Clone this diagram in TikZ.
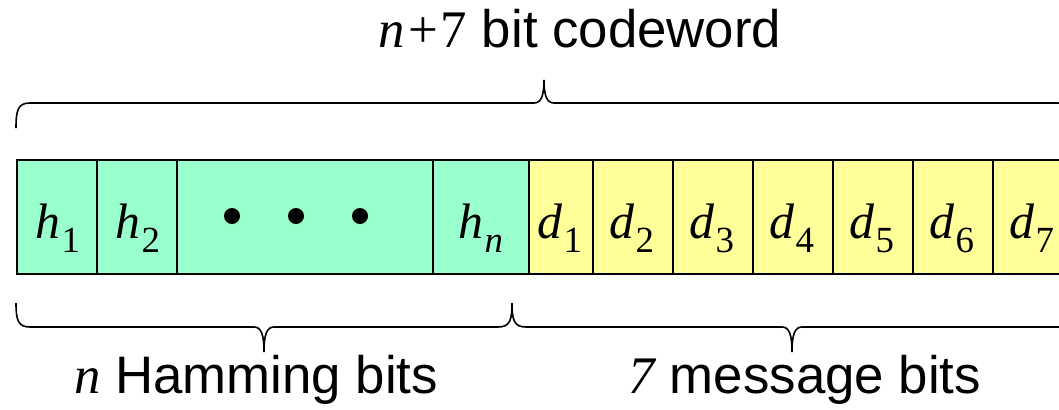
\documentclass[tikz,border=0pt]{standalone}
\usepackage{fontspec}
\setmainfont{Liberation Sans}
\newfontfamily\tms{Liberation Serif}
\definecolor{hamgreen}{RGB}{153,255,204}
\definecolor{msgyellow}{RGB}{255,255,153}
% italic serif variable, and a variable with a lowered subscript
\newcommand{\mvar}[1]{{\tms\itshape #1}}
\newcommand{\bitlabel}[2]{\mvar{#1}\kern1bp\lower14bp\hbox{\fontsize{37}{37}\selectfont\tms #2}}
\begin{document}
\begin{tikzpicture}[x=1bp,y=-1bp,
  cell/.style={draw=black, line width=2.2bp, minimum height=114bp, inner sep=0pt, anchor=west},
  hcell/.style={cell, fill=hamgreen},
  dcell/.style={cell, fill=msgyellow},
  bitlbl/.style={font=\fontsize{50}{50}\selectfont, inner sep=0pt, anchor=base},
  caption/.style={font=\fontsize{53}{53}\selectfont, inner sep=0pt, anchor=base},
  dotmark/.style={circle, fill=black, inner sep=0pt, minimum size=16bp},
  brace/.style={draw=black, line width=1.6bp}]
\useasboundingbox (0,0) rectangle (1059,409);
\clip (0,0) rectangle (1059,409);

% codeword cells
\node[hcell, minimum width=80bp]  (h1)   at (16,217)  {};
\node[hcell, minimum width=80bp]  (h2)   at (96,217)  {};
\node[hcell, minimum width=256bp] (hdot) at (176,217) {};
\node[hcell, minimum width=96bp]  (hn)   at (432,217) {};
\node[dcell, minimum width=64bp]  (d1)   at (528,217) {};
\node[dcell, minimum width=80bp]  (d2)   at (592,217) {};
\node[dcell, minimum width=80bp]  (d3)   at (672,217) {};
\node[dcell, minimum width=80bp]  (d4)   at (752,217) {};
\node[dcell, minimum width=80bp]  (d5)   at (832,217) {};
\node[dcell, minimum width=80bp]  (d6)   at (912,217) {};
\node[dcell, minimum width=80bp]  (d7)   at (992,217) {};

% cell labels
\node[bitlbl] (lh1) at (58,238)  {\bitlabel{h}{1}};
\node[bitlbl] (lh2) at (138,238) {\bitlabel{h}{2}};
\node[bitlbl] (lhn) at (481,238) {\bitlabel{h}{\itshape n}};
\node[bitlbl] (ld1) at (560,238) {\bitlabel{d}{1}};
\node[bitlbl] (ld2) at (632,238) {\bitlabel{d}{2}};
\node[bitlbl] (ld3) at (712,238) {\bitlabel{d}{3}};
\node[bitlbl] (ld4) at (792,238) {\bitlabel{d}{4}};
\node[bitlbl] (ld5) at (872,238) {\bitlabel{d}{5}};
\node[bitlbl] (ld6) at (952,238) {\bitlabel{d}{6}};
\node[bitlbl] (ld7) at (1032,238) {\bitlabel{d}{7}};

% ellipsis dots
\node[dotmark] (dot1) at (232,216) {};
\node[dotmark] (dot2) at (296,216) {};
\node[dotmark] (dot3) at (360,216) {};

% brace over the whole codeword
\draw[brace] (16,128) .. controls (16,110) and (18,103) .. (30,103) -- (534,103)
  .. controls (541,103) and (544,96) .. (544,80)
  .. controls (544,96) and (547,103) .. (554,103) -- (1058,103)
  .. controls (1070,103) and (1072,110) .. (1072,128);

% brace under the Hamming bits
\draw[brace] (16,303) .. controls (16,320) and (18,327) .. (30,327) -- (254,327)
  .. controls (261,327) and (264,334) .. (264,352)
  .. controls (264,334) and (267,327) .. (274,327) -- (498,327)
  .. controls (510,327) and (512,320) .. (512,303);

% brace under the message bits
\draw[brace] (512,303) .. controls (512,320) and (514,327) .. (526,327) -- (782,327)
  .. controls (789,327) and (792,334) .. (792,352)
  .. controls (792,334) and (795,327) .. (802,327) -- (1058,327)
  .. controls (1070,327) and (1072,320) .. (1072,303);

% captions
\node[caption] (top)  at (580,47)  {\mvar{n}\kern3bp{\tms +}\kern3bp{\tms 7} bit codeword};
\node[caption] (ham)  at (256,393) {\mvar{n} Hamming bits};
\node[caption] (msg)  at (805,393) {\mvar{7} message bits};
\end{tikzpicture}
\end{document}
